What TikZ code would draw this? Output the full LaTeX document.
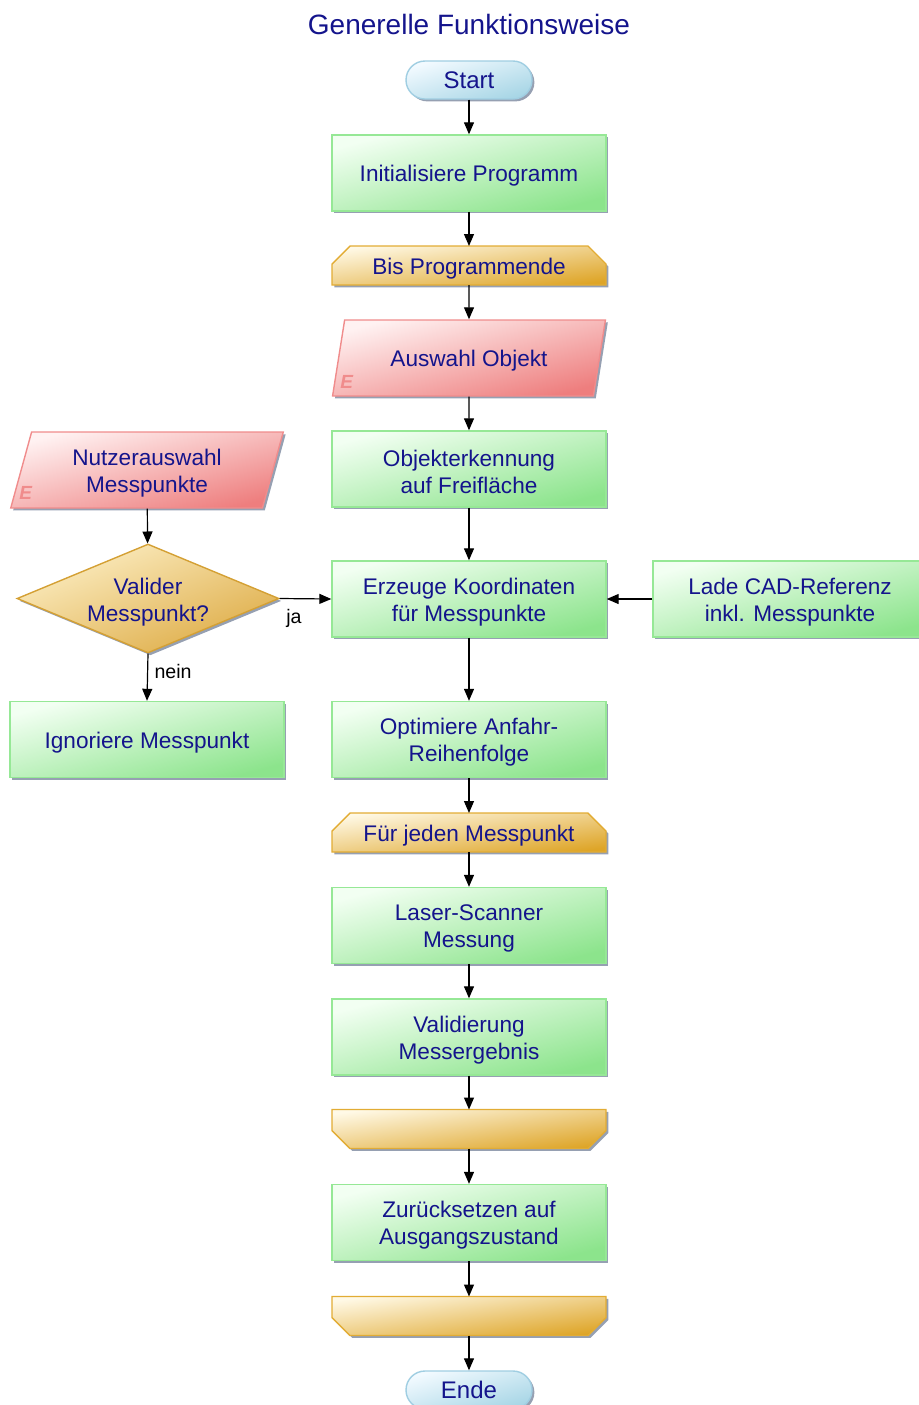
\documentclass[tikz,border=0pt]{standalone}
\usepackage{fontspec}
\setmainfont{Liberation Sans}
\usetikzlibrary{arrows.meta,shapes.geometric,shadows,backgrounds}
\definecolor{navy}{RGB}{20,20,140}
\definecolor{boxlight}{RGB}{242,255,242}
\definecolor{boxdark}{RGB}{140,228,140}
\definecolor{boxline}{RGB}{150,232,150}
\definecolor{looplight}{RGB}{255,249,230}
\definecolor{loopdark}{RGB}{222,165,40}
\definecolor{loopline}{RGB}{226,172,52}
\definecolor{inlight}{RGB}{255,242,242}
\definecolor{indark}{RGB}{238,126,126}
\definecolor{inline}{RGB}{240,140,140}
\definecolor{termlight}{RGB}{242,250,255}
\definecolor{termdark}{RGB}{168,214,230}
\definecolor{termline}{RGB}{160,206,226}
\definecolor{dialight}{RGB}{252,238,196}
\definecolor{diadark}{RGB}{222,172,70}
\definecolor{dialine}{RGB}{212,160,52}
\definecolor{shadowc}{RGB}{150,160,178}
\tikzset{>={Triangle[length=6pt,width=5pt]}}

\begin{document}
\begin{tikzpicture}[x=0.5pt,y=-0.5pt,
    txt/.style={text=navy, align=center, inner sep=2pt,
      font=\fontsize{11.3}{13.5}\selectfont, execute at begin node={\rule{0pt}{11pt}}},
    twoline/.style={execute at begin node={\rule{0pt}{24.5pt}}},
    shade/.style={line width=0.7pt,
      drop shadow={shadow xshift=1.2pt, shadow yshift=-1.2pt, fill=shadowc, opacity=1}},
    grad/.style n args={3}{top color=#1, bottom color=#2, shading angle=#3},
    proc/.style={txt, shade, draw=boxline, grad={boxlight}{boxdark}{15}, rectangle,
      minimum width=137pt, minimum height=38pt},
    loopbox/.style={txt, rectangle, outer sep=0pt, minimum width=137pt, minimum height=19.5pt},
    loopfill/.style={shade, draw=loopline, grad={looplight}{loopdark}{8}},
    inp/.style={txt, shade, draw=inline, grad={inlight}{indark}{15}, trapezium, trapezium stretches=true,
      trapezium left angle=77, trapezium right angle=103, minimum width=137pt, minimum height=38pt},
    term/.style={shade, text=navy, inner sep=2pt, draw=termline, grad={termlight}{termdark}{17}, rectangle,
      rounded corners=9.5pt, minimum width=63pt, minimum height=19pt, font=\fontsize{12}{14}\selectfont},
    dec/.style={txt, shade, draw=dialine, grad={dialight}{diadark}{22}, diamond, aspect=2.4, inner sep=0pt,
      minimum width=131pt, minimum height=54.5pt, execute at begin node={\rule{0pt}{25.7pt}}},
    emark/.style={text=inline, font=\fontsize{9.5}{10}\selectfont\bfseries\itshape, inner sep=0pt},
    lbl/.style={text=black, font=\fontsize{9.8}{11}\selectfont, inner sep=3pt},
    arr/.style={->, line width=0.6pt}]
\useasboundingbox (0,0) rectangle (918,1405);
\node[text=navy, font=\fontsize{14}{16}\selectfont] (titel) at (469,24) {Generelle Funktionsweise};
\node[term] (start) at (469,80) {Start};
\node[proc] (init) at (469,173) {Initialisiere Programm};
\node[loopbox] (bis) at (469,265.5) {Bis Programmende};
\node[inp] (auswahl) at (469,358) {Auswahl Objekt};
\node[emark] (auswahlE) at ([xshift=7.5pt,yshift=7.5pt]auswahl.bottom left corner) {E};
\node[proc, twoline] (objekt) at (469,469) {Objekterkennung\\auf Freifläche};
\node[proc, twoline] (erzeuge) at (469,599) {Erzeuge Koordinaten\\für Messpunkte};
\node[proc, twoline] (lade) at (790,599) {Lade CAD-Referenz\\inkl. Messpunkte};
\node[proc, twoline] (optimiere) at (469,739.5) {Optimiere Anfahr-\\Reihenfolge};
\node[loopbox] (jeder) at (469,832.5) {Für jeden Messpunkt};
\node[proc, twoline] (laser) at (469,925.5) {Laser-Scanner\\Messung};
\node[proc, twoline] (valid) at (469,1037) {Validierung\\Messergebnis};
\node[loopbox] (endeA) at (469,1129) {};
\node[proc, twoline] (reset) at (469,1222.5) {Zurücksetzen auf\\Ausgangszustand};
\node[loopbox] (endeB) at (469,1316) {};
\node[term] (ende) at (469,1390) {Ende};
\node[inp, twoline] (nutzer) at (147,470) {Nutzerauswahl\\Messpunkte};
\node[emark] (nutzerE) at ([xshift=8pt,yshift=8pt]nutzer.bottom left corner) {E};
\node[dec] (pruef) at (148,598.5) {Valider\\Messpunkt?};
\node[proc] (ignor) at (147,739.5) {Ignoriere Messpunkt};
\begin{scope}[on background layer]
\foreach \n in {bis,jeder}
  \path[loopfill] (\n.south west) -- ([yshift=-9pt]\n.north west) -- ([xshift=9pt]\n.north west)
    -- ([xshift=-9pt]\n.north east) -- ([yshift=-9pt]\n.north east) -- (\n.south east) -- cycle;
\foreach \n in {endeA,endeB}
  \path[loopfill] (\n.north west) -- ([yshift=9pt]\n.south west) -- ([xshift=9pt]\n.south west)
    -- ([xshift=-9pt]\n.south east) -- ([yshift=9pt]\n.south east) -- (\n.north east) -- cycle;
\end{scope}
\foreach \a/\b in {start/init, init/bis, bis/auswahl, auswahl/objekt, objekt/erzeuge,
    lade/erzeuge, erzeuge/optimiere, optimiere/jeder, jeder/laser, laser/valid,
    valid/endeA, endeA/reset, reset/endeB, endeB/ende, nutzer/pruef}
  \draw[arr] (\a) -- (\b);
\draw[arr] (pruef.east) -- node[lbl, pos=0, below right, yshift=-2pt] (ja) {ja} (erzeuge.west);
\draw[arr] (pruef.south) -- node[lbl, pos=0, below right, yshift=-2pt] (nein) {nein} (ignor.north);
\end{tikzpicture}
\end{document}
